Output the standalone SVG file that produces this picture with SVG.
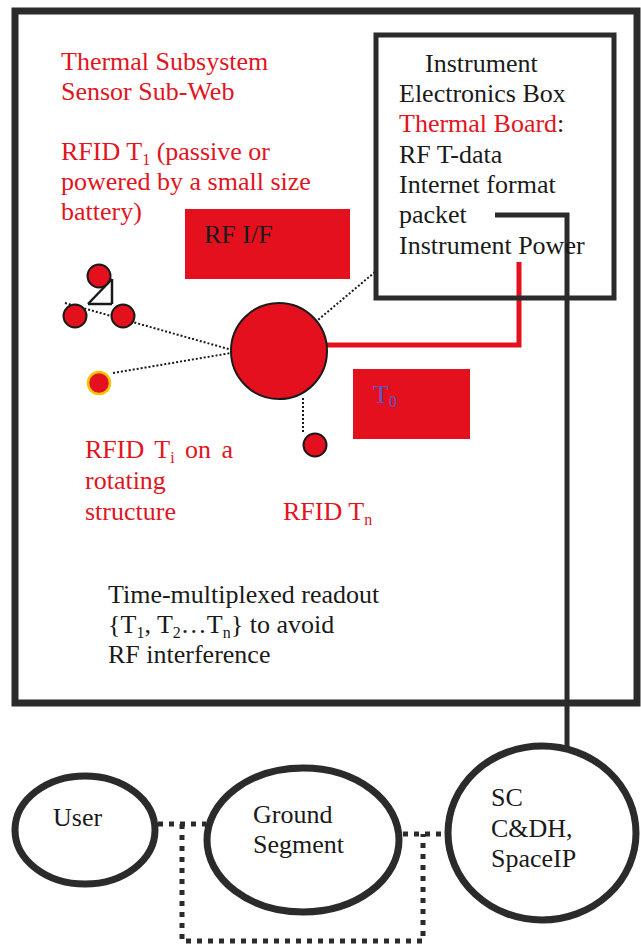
<svg xmlns="http://www.w3.org/2000/svg" width="641" height="945" viewBox="0 0 641 945">
<defs>
<style>
.t{font-family:"Liberation Serif","Times New Roman",serif;font-size:26px;fill:#1a1a1a}
.r{fill:#e2141e}
.sub{font-size:16px}
.frame{fill:none;stroke:#2b2b2b}
.dot{fill:none;stroke:#1a1a1a;stroke-width:2;stroke-dasharray:2 2}
.sq{fill:none;stroke:#2b2b2b;stroke-width:5;stroke-dasharray:5 6}
.tag{fill:#e5101e;stroke:#1a1a1a;stroke-width:2}
.ell{fill:#fff;stroke:#2b2b2b;stroke-width:7}
</style>
</defs>
<rect width="641" height="945" fill="#fff"/>

<g id="outer-frame">
<rect class="frame" x="15" y="11" width="622" height="692" stroke-width="7"/>
</g>

<g id="connectors">
<line class="dot" x1="65" y1="303" x2="232" y2="350"/>
<line class="dot" x1="113" y1="373" x2="231" y2="353"/>
<line class="dot" x1="306" y1="330" x2="375" y2="272"/>
<line class="dot" x1="303" y1="398" x2="303" y2="434"/>
<polyline points="327,345 519,345 519,262" fill="none" stroke="#e5101e" stroke-width="5"/>
<polyline points="495,215 567,215 567,747" fill="none" stroke="#2b2b2b" stroke-width="5"/>
<line class="sq" x1="158" y1="824" x2="206" y2="824"/>
<polyline class="sq" points="182,824 182,941 423,941 423,834"/>
<line class="sq" x1="403" y1="834" x2="446" y2="834"/>
</g>

<g id="title-text">
<text class="t r" x="61" y="70">Thermal Subsystem</text>
<text class="t r" x="61" y="100">Sensor Sub-Web</text>
<text class="t r" x="61" y="160">RFID T<tspan class="sub" dy="5">1</tspan><tspan dy="-5"> (passive or</tspan></text>
<text class="t r" x="61" y="190">powered by a small size</text>
<text class="t r" x="61" y="220">battery)</text>
</g>

<g id="instrument-box">
<rect class="frame" x="376" y="35" width="238" height="263" stroke-width="5"/>
<text class="t" x="425" y="72">Instrument</text>
<text class="t" x="399" y="102">Electronics Box</text>
<text class="t" x="399" y="132"><tspan class="r">Thermal Board</tspan>:</text>
<text class="t" x="399" y="163">RF T-data</text>
<text class="t" x="399" y="193">Internet format</text>
<text class="t" x="399" y="223">packet</text>
<text class="t" x="399" y="254">Instrument Power</text>
</g>

<g id="rf-if">
<rect x="185" y="209" width="165" height="70" fill="#e5101e"/>
<text class="t" x="204" y="243" font-size="25">RF I/F</text>
</g>

<g id="t0">
<rect x="353" y="369" width="117" height="70" fill="#e5101e"/>
<text class="t" x="373" y="403" style="fill:#5a58c8">T<tspan class="sub" dy="4">0</tspan></text>
</g>

<g id="rfid-cluster">
<line x1="112" y1="279" x2="112" y2="304" stroke="#1a1a1a" stroke-width="2.5"/>
<line x1="112" y1="304" x2="88" y2="304" stroke="#1a1a1a" stroke-width="2.5"/>
<line x1="88" y1="304" x2="112" y2="279" stroke="#1a1a1a" stroke-width="2.5"/>
<circle class="tag" cx="99" cy="276" r="11.5"/>
<circle class="tag" cx="75" cy="316" r="11.5"/>
<circle class="tag" cx="123" cy="316" r="11.5"/>
</g>

<g id="rfid-rotating">
<circle cx="99" cy="383" r="11" fill="#e5101e" stroke="#f2c500" stroke-width="2.5"/>
<text class="t r" x="85" y="458" word-spacing="4">RFID T<tspan class="sub" dy="5">i</tspan><tspan dy="-5"> on a</tspan></text>
<text class="t r" x="85" y="489">rotating</text>
<text class="t r" x="85" y="520">structure</text>
</g>

<g id="reader">
<circle class="tag" cx="279" cy="351" r="48"/>
</g>

<g id="rfid-n">
<circle class="tag" cx="315" cy="445" r="11.5"/>
<text class="t r" x="283" y="520">RFID T<tspan class="sub" dy="5">n</tspan></text>
</g>

<g id="note">
<text class="t" x="108" y="603">Time-multiplexed readout</text>
<text class="t" x="108" y="633">{T<tspan class="sub" dy="5">1</tspan><tspan dy="-5">, T</tspan><tspan class="sub" dy="5">2</tspan><tspan dy="-5">…T</tspan><tspan class="sub" dy="5">n</tspan><tspan dy="-5">} to avoid</tspan></text>
<text class="t" x="108" y="663">RF interference</text>
</g>

<g id="user">
<ellipse class="ell" cx="85" cy="830" rx="70" ry="54"/>
<text class="t" x="53" y="826">User</text>
</g>

<g id="ground-segment">
<ellipse class="ell" cx="303" cy="840" rx="96" ry="72"/>
<text class="t" x="253" y="823">Ground</text>
<text class="t" x="253" y="853">Segment</text>
</g>

<g id="sc-cdh">
<ellipse class="ell" cx="542" cy="833" rx="94" ry="87"/>
<text class="t" x="491" y="806">SC</text>
<text class="t" x="491" y="837">C&amp;DH,</text>
<text class="t" x="491" y="867">SpaceIP</text>
</g>
</svg>
